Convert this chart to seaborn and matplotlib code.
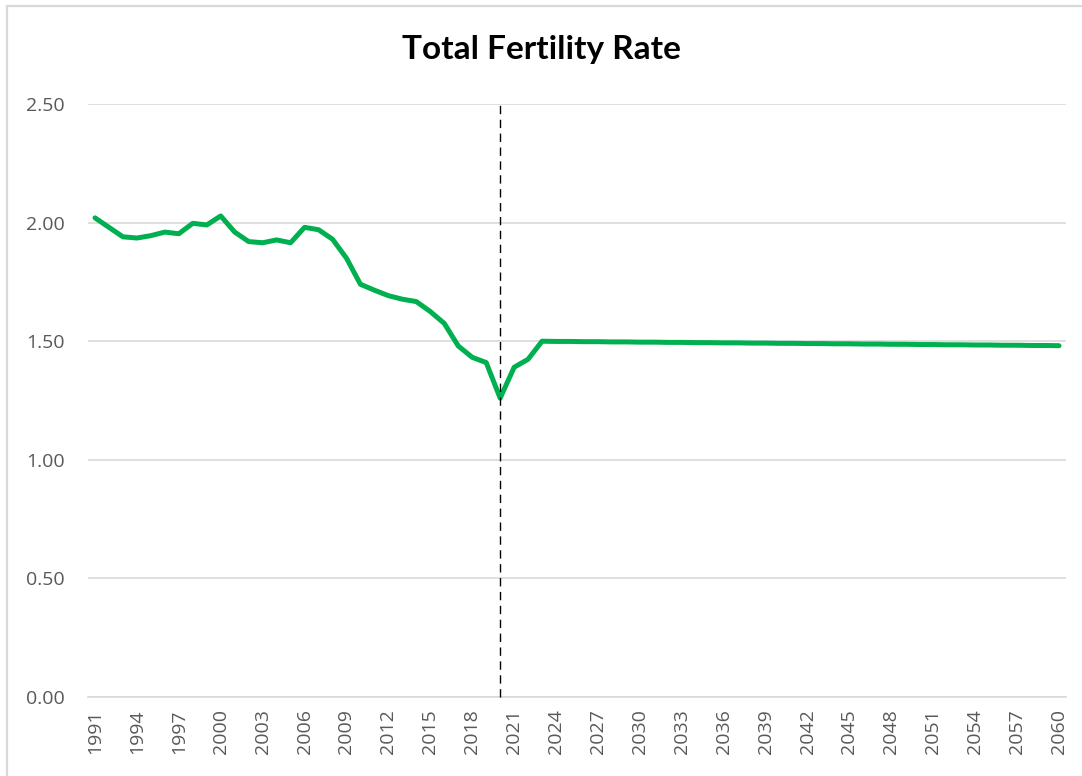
import matplotlib
matplotlib.use("Agg")
import matplotlib.pyplot as plt
import seaborn as sns
import pandas as pd
from matplotlib.patches import Rectangle

years = list(range(1991, 2061))
tfr = [
    2.02, 1.98, 1.94, 1.935, 1.945, 1.96, 1.953, 1.997, 1.99, 2.028,
    1.96, 1.92, 1.915, 1.927, 1.915, 1.98, 1.97, 1.93, 1.85, 1.74,
    1.715, 1.692, 1.677, 1.667, 1.625, 1.575, 1.48, 1.432, 1.41, 1.26,
    1.39, 1.424, 1.50, 1.499, 1.499, 1.498, 1.498, 1.497, 1.497, 1.496,
    1.496, 1.495, 1.495, 1.494, 1.494, 1.493, 1.493, 1.492, 1.492, 1.491,
    1.491, 1.490, 1.490, 1.489, 1.489, 1.488, 1.488, 1.487, 1.487, 1.486,
    1.486, 1.485, 1.485, 1.484, 1.484, 1.483, 1.483, 1.482, 1.482, 1.481,
]
tick_years = list(range(1991, 2061, 3))
y_ticks = [0.0, 0.5, 1.0, 1.5, 2.0, 2.5]
divider_year = 2020
title = "Total Fertility Rate"

df = pd.DataFrame({"year": years, "tfr": tfr})

sns.set_style("white")
plt.rcParams["font.family"] = ["Open Sans", "DejaVu Sans"]

W, H = 1082, 776
fig = plt.figure(figsize=(W / 100, H / 100), dpi=100)
ax = fig.add_axes([88 / W, 1 - 697 / H, (1066 - 88) / W, (697 - 104) / H])

for yv in y_ticks:
    ax.axhline(yv, color="#d9d9d9", lw=1.2, zorder=0)

sns.lineplot(data=df, x="year", y="tfr", ax=ax, color="#00B050", lw=3.6,
             solid_capstyle="round", solid_joinstyle="round", zorder=3)

ax.plot([divider_year, divider_year], [0, 2.51], color="black", lw=1.0,
        ls=(0, (6, 4)), zorder=4, clip_on=False)

ax.set_xlim(years[0] - 0.5, years[-1] + 0.5)
ax.set_ylim(0, 2.5)
ax.set_xticks(tick_years)
ax.set_xticklabels([str(t) for t in tick_years], rotation=90, fontsize=14, color="#595959")
ax.set_yticks(y_ticks)
ax.set_yticklabels([f"{v:.2f}" for v in y_ticks], fontsize=14, color="#595959")
ax.tick_params(axis="x", length=0, pad=9)
ax.tick_params(axis="y", length=0, pad=17)
ax.set_xlabel("")
ax.set_ylabel("")
for s in ["top", "right", "left"]:
    ax.spines[s].set_visible(False)
ax.spines["bottom"].set_color("#d9d9d9")
ax.spines["bottom"].set_linewidth(1.2)

fig.text(0.5, 1 - 49 / H, title, ha="center", va="center", fontsize=24,
         fontweight="bold", family=["Lato", "DejaVu Sans"], color="black")

fig.patches.append(Rectangle((6.5 / W, 1 - 800 / H), (1100 - 6.5) / W, (800 - 5.5) / H,
                             transform=fig.transFigure, fill=False,
                             edgecolor="#d9d9d9", lw=1.6))

fig.savefig("out.png", dpi=100)
